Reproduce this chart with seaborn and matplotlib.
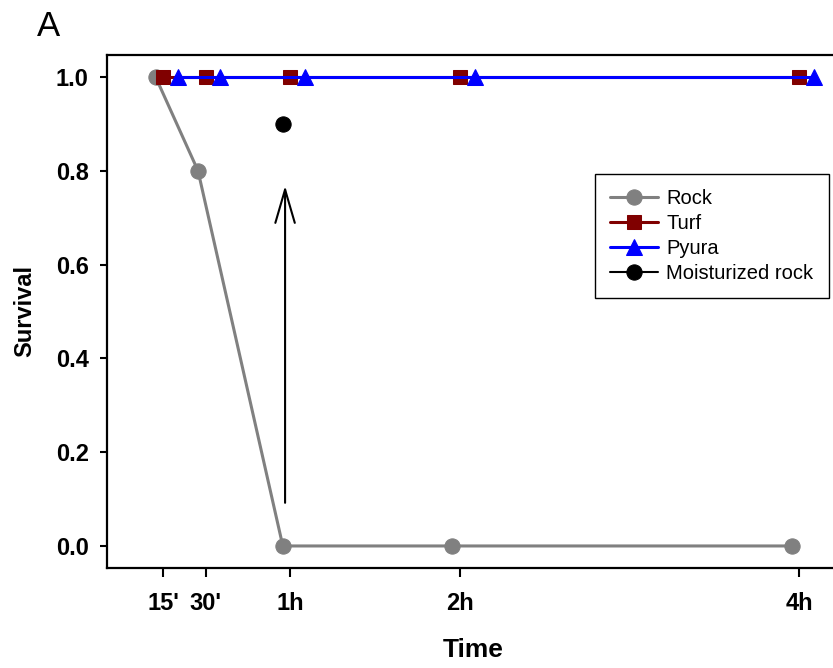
import matplotlib
matplotlib.use('Agg')
import pandas as pd
import matplotlib.pyplot as plt
import seaborn as sns

# 数据 (时间, 分钟)
times = [15, 30, 60, 120, 240]
tick_labels = ["15'", "30'", "1h", "2h", "4h"]
rock = [1.0, 0.8, 0.0, 0.0, 0.0]
turf = [1.0, 1.0, 1.0, 1.0, 1.0]
pyura = [1.0, 1.0, 1.0, 1.0, 1.0]
moist_times = [60]
moist_rock = [0.9]

# 各系列的水平偏移 (避免重叠)
rock_shift = -2.7
pyura_shift = 5.2

# 设置 Seaborn 样式
sns.set_style('ticks')
plt.rcParams['font.family'] = ['Liberation Sans', 'DejaVu Sans']
plt.rcParams['text.color'] = 'black'
plt.rcParams['axes.labelcolor'] = 'black'
plt.rcParams['xtick.color'] = 'black'
plt.rcParams['ytick.color'] = 'black'

fig = plt.figure(figsize=(8.33, 6.68), dpi=100)
ax = fig.add_axes([0.129, 0.1497, 0.8793, 0.768])

df_rock = pd.DataFrame({'time': [t + rock_shift for t in times], 'survival': rock})
df_turf = pd.DataFrame({'time': times, 'survival': turf})
df_pyura = pd.DataFrame({'time': [t + pyura_shift for t in times], 'survival': pyura})
df_moist = pd.DataFrame({'time': [t + rock_shift for t in moist_times], 'survival': moist_rock})

sns.lineplot(data=df_rock, x='time', y='survival', ax=ax, color='#808080', marker='o',
             markersize=11, markeredgecolor='#808080', linewidth=2.2, label='Rock', zorder=2)
sns.lineplot(data=df_turf, x='time', y='survival', ax=ax, color='#800000', marker='s',
             markersize=10, markeredgecolor='#800000', linewidth=2.2, label='Turf', zorder=3)
sns.lineplot(data=df_pyura, x='time', y='survival', ax=ax, color='#0000ff', marker='^',
             markersize=11, markeredgecolor='#0000ff', linewidth=2.2, label='Pyura', zorder=4)
sns.lineplot(data=df_moist, x='time', y='survival', ax=ax, color='black', marker='o',
             markersize=11, markeredgecolor='black', linewidth=1.5, label='Moisturized rock', zorder=5)

# 箭头
ax.annotate('', xy=(58.1, 0.768), xytext=(58.1, 0.092),
            arrowprops=dict(arrowstyle='->,head_length=2.4,head_width=0.7', lw=1.5,
                            color='black', mutation_scale=10, shrinkA=0, shrinkB=0))

# 坐标轴
ax.set_xlim(-4.74, 254.4)
ax.set_ylim(-0.047, 1.047)
ax.set_xticks(times)
ax.set_xticklabels(tick_labels)
ax.set_yticks([0.0, 0.2, 0.4, 0.6, 0.8, 1.0])
ax.set_yticklabels(['0.0', '0.2', '0.4', '0.6', '0.8', '1.0'])
for lab in ax.get_xticklabels() + ax.get_yticklabels():
    lab.set_fontweight('bold')
    lab.set_fontsize(17)
ax.tick_params(axis='x', direction='out', length=6.5, width=1.5, pad=11)
ax.tick_params(axis='y', direction='out', length=5, width=1.5, pad=8.5)
for sp in ax.spines.values():
    sp.set_linewidth(1.6)
    sp.set_color('black')

ax.set_xlabel('Time', fontsize=19, fontweight='bold', labelpad=16)
ax.set_ylabel('Survival', fontsize=17, fontweight='bold', labelpad=14)

leg = ax.legend(loc='upper left', bbox_to_anchor=(0.6655, 0.768), borderaxespad=0,
                fontsize=14.5, frameon=True, fancybox=False, framealpha=1,
                edgecolor='black', handlelength=2.4, handletextpad=0.4,
                labelspacing=0.3, borderpad=0.75)
leg.get_frame().set_linewidth(1.0)

fig.text(37 / 833, 1 - 10 / 668, 'A', fontsize=25, ha='left', va='top')

plt.savefig('out.png', dpi=100)
plt.close()
